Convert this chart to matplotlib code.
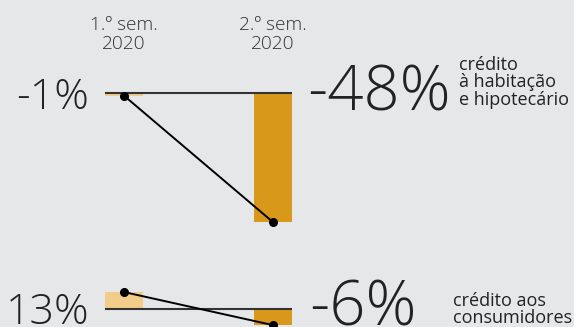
import matplotlib
matplotlib.use('Agg')
import matplotlib.pyplot as plt

# data
periodos = ['1.º sem.\n2020', '2.º sem.\n2020']
habitacao = [-1, -48]
habitacao_labels = ['-1%', '-48%']
habitacao_nome = 'crédito\nà habitação\ne hipotecário'
# bar heights as drawn in the source (bottom panel is not to the same scale as its labels)
consumo = [6.3, -6]
consumo_labels = ['13%', '-6%']
consumo_nome = 'crédito aos\nconsumidores'

BG = '#e6e7e9'
LIGHT = '#f2cc8a'
DARK = '#d8991a'
TXT = '#222222'
FONT = 'Open Sans'

W, H = 574, 327
fig = plt.figure(figsize=(W / 100, H / 100), dpi=100)
fig.patch.set_facecolor(BG)


def fx(px):
    return px / W


def fy(py):
    return 1 - py / H


def panel(top_px, bottom_px, base_px, values):
    scale = 2.69  # px per percentage point
    ax = fig.add_axes([fx(105), fy(bottom_px), fx(292 - 105), (bottom_px - top_px) / H])
    ax.set_facecolor('none')
    ax.set_xlim(-0.1275, 1.1275)
    ax.set_ylim(-(bottom_px - base_px) / scale, (base_px - top_px) / scale)
    x = [0, 1]
    ax.bar(x, values, width=0.255, color=[LIGHT, DARK], zorder=1)
    ax.axhline(0, color='#333333', lw=1.5, zorder=2)
    ax.plot(x, values, color='black', lw=1.4, marker='o', ms=5.5, zorder=3, clip_on=False)
    ax.axis('off')
    return ax


panel(85, 230, 93, habitacao)
panel(283, 327, 309, consumo)

# period headers (va baseline -> last line)
for cx, lab in zip([124, 273], periodos):
    fig.text(fx(cx), fy(49), lab, ha='center', va='baseline', fontsize=13.7,
             family=FONT, fontweight='light', color='#333333', linespacing=1.1)

# big percentages
fig.text(fx(89), fy(109), habitacao_labels[0], ha='right', va='baseline', fontsize=31,
         family=FONT, fontweight='light', color=TXT)
fig.text(fx(89), fy(324), consumo_labels[0], ha='right', va='baseline', fontsize=31,
         family=FONT, fontweight='light', color=TXT)
fig.text(fx(307), fy(110), habitacao_labels[1], ha='left', va='baseline', fontsize=45.5,
         family=FONT, fontweight='light', color=TXT)
fig.text(fx(309), fy(325), consumo_labels[1], ha='left', va='baseline', fontsize=45.5,
         family=FONT, fontweight='light', color=TXT)

# series names
fig.text(fx(459), fy(105), habitacao_nome, ha='left', va='baseline', fontsize=13,
         family=FONT, color=TXT, linespacing=0.98)
fig.text(fx(453), fy(323), consumo_nome, ha='left', va='baseline', fontsize=13,
         family=FONT, color=TXT, linespacing=0.95)

fig.savefig('out.png', dpi=100, facecolor=BG)
